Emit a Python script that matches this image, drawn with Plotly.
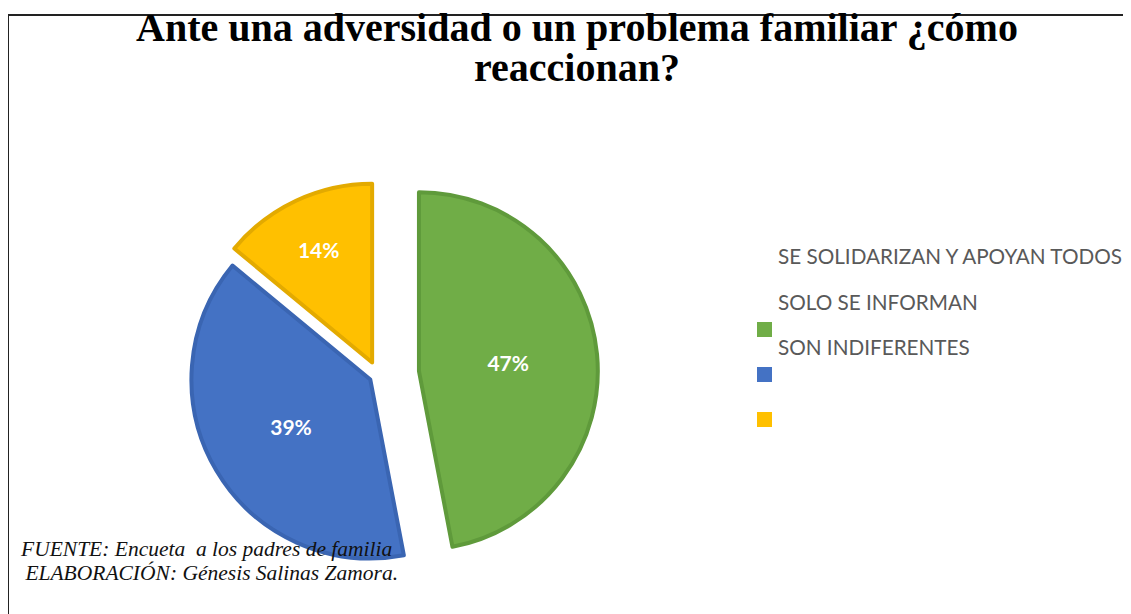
import plotly.graph_objects as go

# ---- data ----
categories = ["SE SOLIDARIZAN Y APOYAN TODOS", "SOLO SE INFORMAN", "SON INDIFERENTES"]
values = [47, 39, 14]
colors = ["#70AD47", "#4472C4", "#FFC000"]
border_colors = ["#5F9A3B", "#3A65B2", "#E3AA00"]
pulls = [0.23, 0.05, 0.077]

title_lines = ["Ante una adversidad o un problema familiar ¿cómo", "reaccionan?"]
note_lines = ["FUENTE: Encueta  a los padres de familia",
              " ELABORACIÓN: Génesis Salinas Zamora."]

W, H = 1131, 614
OFF = 8  # page body margin
def px(x):
    return (x - OFF) / W
def py(y):
    return 1 - (y - OFF) / H

fig = go.Figure()
fig.add_trace(go.Pie(
    labels=categories,
    values=values,
    sort=False,
    direction="clockwise",
    rotation=0,
    pull=pulls,
    marker=dict(colors=colors, line=dict(color=border_colors, width=4)),
    textinfo="percent",
    texttemplate="%{percent:.0%}",
    textposition="inside",
    insidetextorientation="horizontal",
    textfont=dict(family="Lato", size=21, color="white", weight="bold"),
    domain=dict(x=[px(158), px(598)], y=[py(595), py(155)]),
    showlegend=False,
    hoverinfo="label+percent",
))

shapes = []
annotations = []
# frame lines
shapes.append(dict(type="line", xref="paper", yref="paper", x0=px(7), x1=1, y0=py(15), y1=py(15),
                   line=dict(color="#222222", width=2)))
shapes.append(dict(type="line", xref="paper", yref="paper", x0=px(8), x1=px(8), y0=py(15), y1=0,
                   line=dict(color="#222222", width=2)))

# title (two lines)
title_y = [27, 67]
for t, yy in zip(title_lines, title_y):
    annotations.append(dict(text="<b>" + t + "</b>", xref="paper", yref="paper",
                            x=px(577), y=py(yy), xanchor="center", yanchor="middle",
                            showarrow=False,
                            font=dict(family="Liberation Serif", size=40, color="black")))

# custom legend (labels offset above their swatches, as in the original)
text_y = [256, 302, 347]
sq_y = [329.5, 374.5, 419.5]
for i, cat in enumerate(categories):
    annotations.append(dict(text=cat, xref="paper", yref="paper", x=px(776), y=py(text_y[i]),
                            xanchor="left", yanchor="middle", showarrow=False,
                            font=dict(family="Lato", size=20.7, color="#595959")))
    shapes.append(dict(type="rect", xref="paper", yref="paper",
                       x0=px(757), x1=px(772), y0=py(sq_y[i] + 7.5), y1=py(sq_y[i] - 7.5),
                       fillcolor=colors[i], line=dict(width=0)))

# footnote
note_y = [549, 573]
note_x = [18, 18]
for t, xx, yy in zip(note_lines, note_x, note_y):
    annotations.append(dict(text=t, xref="paper", yref="paper",
                            x=px(xx), y=py(yy), xanchor="left", yanchor="middle", align="left",
                            showarrow=False,
                            font=dict(family="Liberation Serif", size=21.5, color="#111111", style="italic")))

fig.update_layout(
    width=W, height=H,
    margin=dict(l=0, r=0, t=0, b=0),
    paper_bgcolor="white",
    plot_bgcolor="white",
    shapes=shapes,
    annotations=annotations,
)

fig.write_html("out.html")
